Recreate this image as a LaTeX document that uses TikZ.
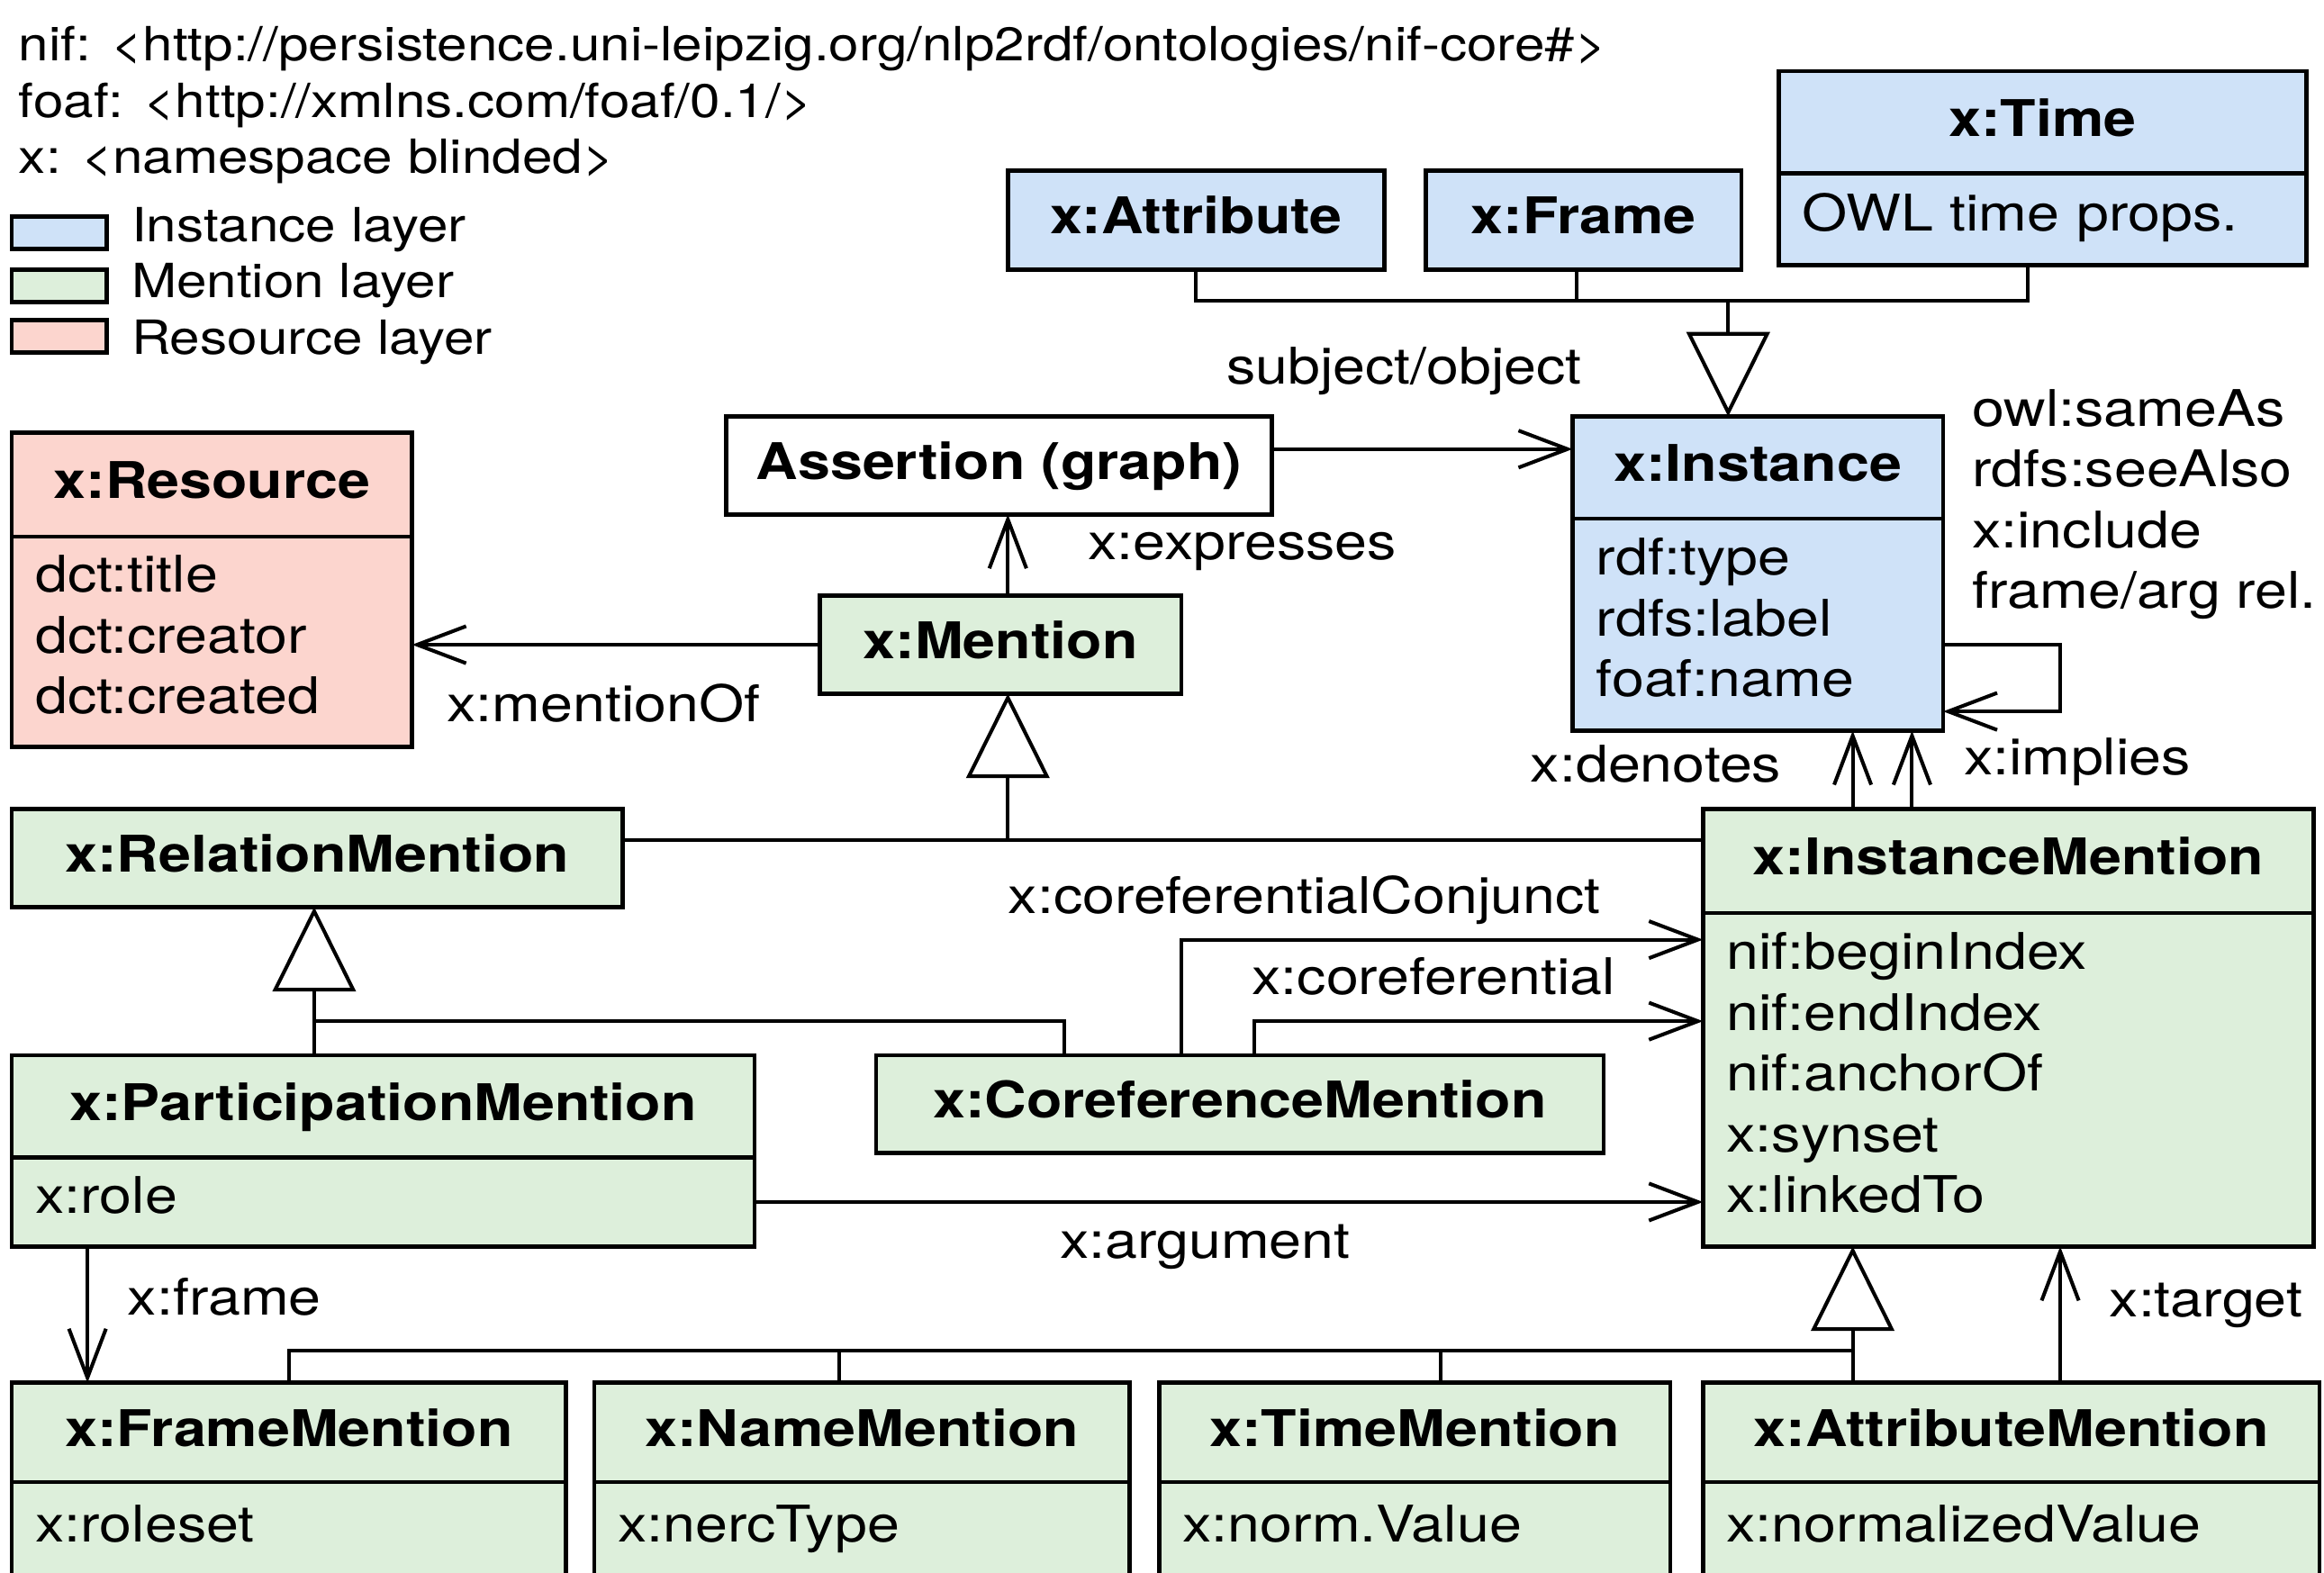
\documentclass[tikz,border=0pt]{standalone}
\usepackage{fontspec}
\setmainfont{TeX Gyre Heros}[FakeStretch=1.15]
\usepackage{tikz}
\usetikzlibrary{arrows.meta,positioning}

\definecolor{instblue}{RGB}{207,226,248}
\definecolor{mentgreen}{RGB}{221,239,219}
\definecolor{rsrcpink}{RGB}{252,213,206}

\newcommand{\boxfont}{\fontsize{9.7pt}{11.67pt}\selectfont}
\newcommand{\nsfont}{\fontsize{9.05pt}{10.8pt}\selectfont}

\tikzset{
  cls/.style={draw, line width=0.8pt, inner sep=0pt, outer sep=0pt, anchor=north west,
    text height=0.74em, text depth=0.21em, font=\boxfont\bfseries},
  props/.style={draw, line width=0.8pt, inner xsep=1.6mm, inner ysep=0pt, outer sep=0pt,
    align=left, font=\boxfont, execute at end node={\rule[-2.8pt]{0pt}{2.8pt}}},
  key/.style={draw, line width=0.8pt, minimum width=6.4mm, minimum height=2.2mm, inner sep=0pt},
  lbl/.style={font=\boxfont, inner sep=0pt},
  ns/.style={font=\nsfont, inner sep=0pt, anchor=base west},
  rel/.style={line width=0.7pt},
  assoc/.style={rel, -{Straight Barb[length=3.3mm,width=2.5mm]}},
  gen/.style={rel, -{Triangle[open,length=5.7mm,width=5.6mm]}},
}

\begin{document}
\begin{tikzpicture}
\useasboundingbox (0,0) rectangle (15.68,10.61);
\clip (0,0) rectangle (15.68,10.61);

% prefixes
\node[ns] (nsnif) at (0.12,10.20) {nif: <http://persistence.uni-leipzig.org/nlp2rdf/ontologies/nif-core\#>};
\node[ns] (nsfoaf) at (0.12,9.82) {foaf: <http://xmlns.com/foaf/0.1/>};
\node[ns] (nsx) at (0.12,9.44) {x: <namespace blinded>};

% legend
\node[key, fill=instblue] (keyinst) at (0.40,9.04) {};
\node[ns] (keyinstL) at (0.88,8.98) {Instance layer};
\node[key, fill=mentgreen] (keyment) at (0.40,8.68) {};
\node[ns] (keymentL) at (0.88,8.60) {Mention layer};
\node[key, fill=rsrcpink] (keyres) at (0.40,8.34) {};
\node[ns] (keyresL) at (0.88,8.22) {Resource layer};

% instance layer
\node[cls, fill=instblue, minimum width=25.4mm, minimum height=6.7mm] (attrI) at (6.80,9.46) {x:Attribute};
\node[cls, fill=instblue, minimum width=21.3mm, minimum height=6.7mm] (frameI) at (9.62,9.46) {x:Frame};
\node[cls, fill=instblue, minimum width=35.6mm, minimum height=6.9mm] (timeI) at (12.00,10.13) {x:Time};
\node[props, fill=instblue, text width=32.4mm, minimum height=6.2mm, below=0pt of timeI] (timeP) {OWL time props.};
\node[cls, fill=instblue, minimum width=25mm, minimum height=6.9mm] (inst) at (10.61,7.80) {x:Instance};
\node[props, fill=instblue, text width=21.8mm, minimum height=14.3mm, below=0pt of inst] (instP) {rdf:type\\rdfs:label\\foaf:name};
\node[lbl, align=left, anchor=north west] (instRel) at (13.30,7.99) {owl:sameAs\\rdfs:seeAlso\\x:include\\frame/arg rel.};

% graph and resource
\node[cls, fill=white, minimum width=36.8mm, minimum height=6.6mm] (asrt) at (4.90,7.80) {Assertion (graph)};
\node[cls, fill=rsrcpink, minimum width=27mm, minimum height=7mm] (res) at (0.08,7.69) {x:Resource};
\node[props, fill=rsrcpink, text width=23.8mm, minimum height=14.2mm, below=0pt of res] (resP) {dct:title\\dct:creator\\dct:created};

% mention layer
\node[cls, fill=mentgreen, minimum width=24.4mm, minimum height=6.6mm] (ment) at (5.53,6.59) {x:Mention};
\node[cls, fill=mentgreen, minimum width=41.2mm, minimum height=6.6mm] (relm) at (0.08,5.15) {x:RelationMention};
\node[cls, fill=mentgreen, minimum width=41.2mm, minimum height=7mm] (instm) at (11.49,5.15) {x:InstanceMention};
\node[props, fill=mentgreen, text width=38mm, minimum height=22.5mm, below=0pt of instm] (instmP) {nif:beginIndex\\nif:endIndex\\nif:anchorOf\\x:synset\\x:linkedTo};
\node[cls, fill=mentgreen, minimum width=50.1mm, minimum height=6.9mm] (partm) at (0.08,3.49) {x:ParticipationMention};
\node[props, fill=mentgreen, text width=46.9mm, minimum height=6mm, below=0pt of partm] (partmP) {x:role};
\node[cls, fill=mentgreen, minimum width=49.1mm, minimum height=6.6mm] (corefm) at (5.91,3.49) {x:CoreferenceMention};

\node[cls, fill=mentgreen, minimum width=37.4mm, minimum height=6.7mm] (framem) at (0.08,1.28) {x:FrameMention};
\node[props, fill=mentgreen, text width=34.2mm, minimum height=6.6mm, below=0pt of framem] (framemP) {x:roleset};
\node[cls, fill=mentgreen, minimum width=36.1mm, minimum height=6.7mm] (namem) at (4.01,1.28) {x:NameMention};
\node[props, fill=mentgreen, text width=32.9mm, minimum height=6.6mm, below=0pt of namem] (namemP) {x:nercType};
\node[cls, fill=mentgreen, minimum width=34.5mm, minimum height=6.7mm] (timem) at (7.82,1.28) {x:TimeMention};
\node[props, fill=mentgreen, text width=31.3mm, minimum height=6.6mm, below=0pt of timem] (timemP) {x:norm.Value};
\node[cls, fill=mentgreen, minimum width=41.6mm, minimum height=6.7mm] (attrm) at (11.49,1.28) {x:AttributeMention};
\node[props, fill=mentgreen, text width=38.4mm, minimum height=6.6mm, below=0pt of attrm] (attrmP) {x:normalizedValue};

% subclasses of x:Instance
\coordinate (instJ) at (11.66,8.58);
\draw[rel] (attrI.south) |- (instJ);
\draw[rel] ([xshift=-0.5mm]frameI.south) -- ([xshift=-0.5mm]frameI.south |- instJ);
\draw[rel] ([xshift=-1mm]timeP.south) |- (instJ);
\draw[gen] (instJ) -- (inst.north -| instJ);

% relations of the upper part
\draw[assoc] ([yshift=1.1mm]asrt.east) -- ([yshift=1.1mm]asrt.east -| inst.west)
  node[lbl, pos=0.44, above=3.5mm] (lsubj) {subject/object};
\draw[assoc] ([xshift=0.5mm]ment.north) -- ([xshift=0.5mm]ment.north |- asrt.south)
  node[lbl, pos=0.54, right=5.3mm] (lexpr) {x:expresses};
\draw[assoc] (ment.west) -- (ment.west -| resP.east)
  node[lbl, pos=0.53, below=2.5mm] (lmof) {x:mentionOf};
\draw[assoc] ([yshift=-1.35mm]instP.east) -- ++(7.9mm,0) |- ([yshift=-5.85mm]instP.east);

% subclasses of x:Mention
\coordinate (mentJ) at (6.80,4.94);
\draw[rel] (relm.east |- mentJ) -- (instm.west |- mentJ);
\draw[gen] (mentJ) -- (ment.south -| mentJ);

\draw[assoc] ([xshift=-10.5mm]instm.north) -- ([xshift=-10.5mm]instm.north |- instP.south)
  node[lbl, pos=0.58, left=4.7mm] (ldenot) {x:denotes};
\draw[assoc] ([xshift=-6.5mm]instm.north) -- ([xshift=-6.5mm]instm.north |- instP.south)
  node[lbl, pos=0.60, right=3.4mm] (limpl) {x:implies};

% subclasses of x:RelationMention
\coordinate (relJ) at (2.12,3.72);
\draw[gen] (relJ) -- (relm.south -| relJ);
\draw[rel] (partm.north -| relJ) -- (relJ) -| ([xshift=-11.85mm]corefm.north);

\draw[assoc] ([xshift=-3.95mm]corefm.north) |- ([yshift=9.45mm]instmP.west)
  node[lbl, pos=0.618, above=0.9mm] (lconj) {x:coreferentialConjunct};
\draw[assoc] ([xshift=0.95mm]corefm.north) |- ([yshift=3.95mm]instmP.west)
  node[lbl, pos=0.70, above=1.6mm] (lcoref) {x:coreferential};
\draw[assoc] (partmP.east) -- (partmP.east -| instm.west)
  node[lbl, pos=0.475, below=1.4mm] (larg) {x:argument};
\draw[assoc] ([xshift=-19.95mm]partmP.south) -- ([xshift=-19.95mm]partmP.south |- framem.north)
  node[lbl, pos=0.37, right=2.6mm] (lframe) {x:frame};

% subclasses of x:InstanceMention
\coordinate (imJ) at (12.50,1.50);
\draw[gen] (imJ) -- (instmP.south -| imJ);
\draw[rel] (framem.north) |- (imJ);
\draw[rel] ([xshift=-1.55mm]namem.north) -- ([xshift=-1.55mm]namem.north |- imJ);
\draw[rel] ([xshift=1.75mm]timem.north) -- ([xshift=1.75mm]timem.north |- imJ);
\draw[rel] (attrm.north -| imJ) -- (imJ);

\draw[assoc] ([xshift=3.3mm]attrm.north) -- ([xshift=3.3mm]attrm.north |- instmP.south)
  node[lbl, pos=0.57, right=3.2mm] (ltarget) {x:target};
\end{tikzpicture}
\end{document}
